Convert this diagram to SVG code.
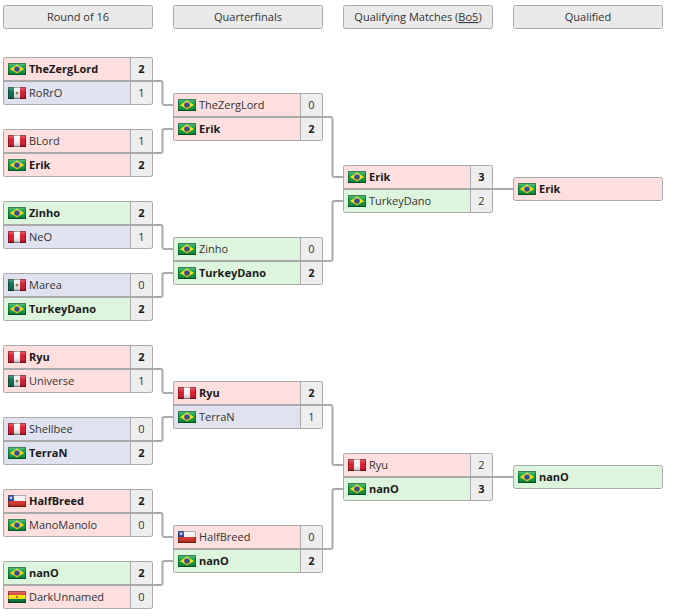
<svg xmlns="http://www.w3.org/2000/svg" xmlns:xlink="http://www.w3.org/1999/xlink" width="674" height="616" viewBox="0 0 674 616">
<style>
text{font-family:"Open Sans","Noto Sans","DejaVu Sans",sans-serif;font-size:11px;fill:#333}
.b{font-weight:700;fill:#1a1a1a}
.s{text-anchor:middle}
.h{text-anchor:middle;fill:#333}
.hd{fill:#eaeaea;stroke:#aaa;stroke-width:1}
.r{fill:#fddfdf}.u{fill:#e0e3ef}.g{fill:#ddf4dd}.c{fill:#eee}
.bd{fill:none;stroke:#aaa;stroke-width:1}
.dv{stroke:#aaa;stroke-width:2;fill:none}
.sp{stroke:#aaa;stroke-width:1}
.cn{fill:none;stroke:#aaa;stroke-width:2;stroke-linejoin:round}
.fo{fill:none;stroke:#000;stroke-opacity:.3;stroke-width:1}
.abbr{text-decoration:underline dotted}
</style>
<defs>
<linearGradient id="gl" x1="0" y1="0" x2="0" y2="1"><stop offset="0" stop-color="#fff" stop-opacity=".35"/><stop offset=".45" stop-color="#fff" stop-opacity=".05"/><stop offset="1" stop-color="#000" stop-opacity=".3"/></linearGradient>
<symbol id="br" width="18" height="12" viewBox="0 0 18 12"><rect width="18" height="12" fill="#009b3a"/><path d="M9 1.5 16 6 9 10.500 2 6z" fill="#fedf00"/><circle cx="9" cy="6" r="2.800" fill="#2a3f8f"/><rect width="18" height="12" fill="url(#gl)"/><rect class="fo" x=".5" y=".5" width="17" height="11"/></symbol>
<symbol id="mx" width="18" height="12" viewBox="0 0 18 12"><rect width="6" height="12" fill="#006847"/><rect x="6" width="6" height="12" fill="#f2f2f2"/><rect x="12" width="6" height="12" fill="#ce1126"/><circle cx="9" cy="6" r="1.500" fill="#8a6d4b"/><rect width="18" height="12" fill="url(#gl)"/><rect class="fo" x=".5" y=".5" width="17" height="11"/></symbol>
<symbol id="pe" width="18" height="12" viewBox="0 0 18 12"><rect width="6" height="12" fill="#d91023"/><rect x="6" width="6" height="12" fill="#f5f5f5"/><rect x="12" width="6" height="12" fill="#d91023"/><rect width="18" height="12" fill="url(#gl)"/><rect class="fo" x=".5" y=".5" width="17" height="11"/></symbol>
<symbol id="cl" width="18" height="12" viewBox="0 0 18 12"><rect width="18" height="6" fill="#f2f2f2"/><rect y="6" width="18" height="6" fill="#d52b1e"/><rect width="6" height="6" fill="#1a3f9c"/><circle cx="3" cy="3" r="1" fill="#fff"/><rect width="18" height="12" fill="url(#gl)"/><rect class="fo" x=".5" y=".5" width="17" height="11"/></symbol>
<symbol id="bo" width="18" height="12" viewBox="0 0 18 12"><rect width="18" height="4" fill="#d52b1e"/><rect y="4" width="18" height="4" fill="#f9e300"/><rect y="8" width="18" height="4" fill="#007934"/><circle cx="9" cy="6" r="1.200" fill="#8a6d4b"/><rect width="18" height="12" fill="url(#gl)"/><rect class="fo" x=".5" y=".5" width="17" height="11"/></symbol>
</defs>
<rect width="674" height="616" fill="#fff"/>

<g id="headers">
<g id="header-r16"><rect class="hd" x="3.500" y="5.500" width="149" height="23" rx="2"/><text class="h" x="78" y="21">Round of 16</text></g>
<g id="header-qf"><rect class="hd" x="173.500" y="5.500" width="149" height="23" rx="2"/><text class="h" x="248" y="21">Quarterfinals</text></g>
<g id="header-sf"><rect class="hd" x="343.500" y="5.500" width="149" height="23" rx="2"/><text class="h" x="418" y="21">Qualifying Matches (<tspan class="abbr">Bo5</tspan>)</text></g>
<g id="header-q"><rect class="hd" x="513.500" y="5.500" width="149" height="23" rx="2"/><text class="h" x="588" y="21">Qualified</text></g>
</g>

<g id="r16-1"><rect class="r" x="3" y="57" width="127" height="24"/><rect class="u" x="3" y="81" width="127" height="24"/><rect class="c" x="130" y="57" width="23" height="48"/><path class="dv" d="M3 81H153"/><path class="sp" d="M130.500 57V105"/><rect class="bd" x="3.500" y="57.500" width="149" height="47" rx="2"/><use href="#br" x="8" y="63"/><text class="b" x="29" y="73">TheZergLord</text><text class="b s" x="141.500" y="73">2</text><use href="#mx" x="8" y="87"/><text x="29" y="97">RoRrO</text><text class="s" x="141.500" y="97">1</text></g>
<g id="r16-2"><rect class="r" x="3" y="129" width="127" height="24"/><rect class="r" x="3" y="153" width="127" height="24"/><rect class="c" x="130" y="129" width="23" height="48"/><path class="dv" d="M3 153H153"/><path class="sp" d="M130.500 129V177"/><rect class="bd" x="3.500" y="129.500" width="149" height="47" rx="2"/><use href="#pe" x="8" y="135"/><text x="29" y="145">BLord</text><text class="s" x="141.500" y="145">1</text><use href="#br" x="8" y="159"/><text class="b" x="29" y="169">Erik</text><text class="b s" x="141.500" y="169">2</text></g>
<g id="r16-3"><rect class="g" x="3" y="201" width="127" height="24"/><rect class="u" x="3" y="225" width="127" height="24"/><rect class="c" x="130" y="201" width="23" height="48"/><path class="dv" d="M3 225H153"/><path class="sp" d="M130.500 201V249"/><rect class="bd" x="3.500" y="201.500" width="149" height="47" rx="2"/><use href="#br" x="8" y="207"/><text class="b" x="29" y="217">Zinho</text><text class="b s" x="141.500" y="217">2</text><use href="#pe" x="8" y="231"/><text x="29" y="241">NeO</text><text class="s" x="141.500" y="241">1</text></g>
<g id="r16-4"><rect class="u" x="3" y="273" width="127" height="24"/><rect class="g" x="3" y="297" width="127" height="24"/><rect class="c" x="130" y="273" width="23" height="48"/><path class="dv" d="M3 297H153"/><path class="sp" d="M130.500 273V321"/><rect class="bd" x="3.500" y="273.500" width="149" height="47" rx="2"/><use href="#mx" x="8" y="279"/><text x="29" y="289">Marea</text><text class="s" x="141.500" y="289">0</text><use href="#br" x="8" y="303"/><text class="b" x="29" y="313">TurkeyDano</text><text class="b s" x="141.500" y="313">2</text></g>
<g id="r16-5"><rect class="r" x="3" y="345" width="127" height="24"/><rect class="r" x="3" y="369" width="127" height="24"/><rect class="c" x="130" y="345" width="23" height="48"/><path class="dv" d="M3 369H153"/><path class="sp" d="M130.500 345V393"/><rect class="bd" x="3.500" y="345.500" width="149" height="47" rx="2"/><use href="#pe" x="8" y="351"/><text class="b" x="29" y="361">Ryu</text><text class="b s" x="141.500" y="361">2</text><use href="#mx" x="8" y="375"/><text x="29" y="385">Universe</text><text class="s" x="141.500" y="385">1</text></g>
<g id="r16-6"><rect class="u" x="3" y="417" width="127" height="24"/><rect class="u" x="3" y="441" width="127" height="24"/><rect class="c" x="130" y="417" width="23" height="48"/><path class="dv" d="M3 441H153"/><path class="sp" d="M130.500 417V465"/><rect class="bd" x="3.500" y="417.500" width="149" height="47" rx="2"/><use href="#pe" x="8" y="423"/><text x="29" y="433">Shellbee</text><text class="s" x="141.500" y="433">0</text><use href="#br" x="8" y="447"/><text class="b" x="29" y="457">TerraN</text><text class="b s" x="141.500" y="457">2</text></g>
<g id="r16-7"><rect class="r" x="3" y="489" width="127" height="24"/><rect class="r" x="3" y="513" width="127" height="24"/><rect class="c" x="130" y="489" width="23" height="48"/><path class="dv" d="M3 513H153"/><path class="sp" d="M130.500 489V537"/><rect class="bd" x="3.500" y="489.500" width="149" height="47" rx="2"/><use href="#cl" x="8" y="495"/><text class="b" x="29" y="505">HalfBreed</text><text class="b s" x="141.500" y="505">2</text><use href="#br" x="8" y="519"/><text x="29" y="529">ManoManolo</text><text class="s" x="141.500" y="529">0</text></g>
<g id="r16-8"><rect class="g" x="3" y="561" width="127" height="24"/><rect class="r" x="3" y="585" width="127" height="24"/><rect class="c" x="130" y="561" width="23" height="48"/><path class="dv" d="M3 585H153"/><path class="sp" d="M130.500 561V609"/><rect class="bd" x="3.500" y="561.500" width="149" height="47" rx="2"/><use href="#br" x="8" y="567"/><text class="b" x="29" y="577">nanO</text><text class="b s" x="141.500" y="577">2</text><use href="#bo" x="8" y="591"/><text x="29" y="601">DarkUnnamed</text><text class="s" x="141.500" y="601">0</text></g>

<g id="qf-1"><rect class="r" x="173" y="93" width="127" height="24"/><rect class="r" x="173" y="117" width="127" height="24"/><rect class="c" x="300" y="93" width="23" height="48"/><path class="dv" d="M173 117H323"/><path class="sp" d="M300.500 93V141"/><rect class="bd" x="173.500" y="93.500" width="149" height="47" rx="2"/><use href="#br" x="178" y="99"/><text x="199" y="109">TheZergLord</text><text class="s" x="311.500" y="109">0</text><use href="#br" x="178" y="123"/><text class="b" x="199" y="133">Erik</text><text class="b s" x="311.500" y="133">2</text></g>
<g id="qf-2"><rect class="g" x="173" y="237" width="127" height="24"/><rect class="g" x="173" y="261" width="127" height="24"/><rect class="c" x="300" y="237" width="23" height="48"/><path class="dv" d="M173 261H323"/><path class="sp" d="M300.500 237V285"/><rect class="bd" x="173.500" y="237.500" width="149" height="47" rx="2"/><use href="#br" x="178" y="243"/><text x="199" y="253">Zinho</text><text class="s" x="311.500" y="253">0</text><use href="#br" x="178" y="267"/><text class="b" x="199" y="277">TurkeyDano</text><text class="b s" x="311.500" y="277">2</text></g>
<g id="qf-3"><rect class="r" x="173" y="381" width="127" height="24"/><rect class="u" x="173" y="405" width="127" height="24"/><rect class="c" x="300" y="381" width="23" height="48"/><path class="dv" d="M173 405H323"/><path class="sp" d="M300.500 381V429"/><rect class="bd" x="173.500" y="381.500" width="149" height="47" rx="2"/><use href="#pe" x="178" y="387"/><text class="b" x="199" y="397">Ryu</text><text class="b s" x="311.500" y="397">2</text><use href="#br" x="178" y="411"/><text x="199" y="421">TerraN</text><text class="s" x="311.500" y="421">1</text></g>
<g id="qf-4"><rect class="r" x="173" y="525" width="127" height="24"/><rect class="g" x="173" y="549" width="127" height="24"/><rect class="c" x="300" y="525" width="23" height="48"/><path class="dv" d="M173 549H323"/><path class="sp" d="M300.500 525V573"/><rect class="bd" x="173.500" y="525.500" width="149" height="47" rx="2"/><use href="#cl" x="178" y="531"/><text x="199" y="541">HalfBreed</text><text class="s" x="311.500" y="541">0</text><use href="#br" x="178" y="555"/><text class="b" x="199" y="565">nanO</text><text class="b s" x="311.500" y="565">2</text></g>

<g id="sf-1"><rect class="r" x="343" y="165" width="127" height="24"/><rect class="g" x="343" y="189" width="127" height="24"/><rect class="c" x="470" y="165" width="23" height="48"/><path class="dv" d="M343 189H493"/><path class="sp" d="M470.500 165V213"/><rect class="bd" x="343.500" y="165.500" width="149" height="47" rx="2"/><use href="#br" x="348" y="171"/><text class="b" x="369" y="181">Erik</text><text class="b s" x="481.500" y="181">3</text><use href="#br" x="348" y="195"/><text x="369" y="205">TurkeyDano</text><text class="s" x="481.500" y="205">2</text></g>
<g id="sf-2"><rect class="r" x="343" y="453" width="127" height="24"/><rect class="g" x="343" y="477" width="127" height="24"/><rect class="c" x="470" y="453" width="23" height="48"/><path class="dv" d="M343 477H493"/><path class="sp" d="M470.500 453V501"/><rect class="bd" x="343.500" y="453.500" width="149" height="47" rx="2"/><use href="#pe" x="348" y="459"/><text x="369" y="469">Ryu</text><text class="s" x="481.500" y="469">2</text><use href="#br" x="348" y="483"/><text class="b" x="369" y="493">nanO</text><text class="b s" x="481.500" y="493">3</text></g>

<g id="final-1"><rect class="r" x="513.500" y="177.500" width="149" height="23" rx="2" style="stroke:#aaa"/><use href="#br" x="518" y="183"/><text class="b" x="539" y="193">Erik</text></g>
<g id="final-2"><rect class="g" x="513.500" y="465.500" width="149" height="23" rx="2" style="stroke:#aaa"/><use href="#br" x="518" y="471"/><text class="b" x="539" y="481">nanO</text></g>

<g id="connectors">
<path class="cn" d="M153 81H160.500Q162.500 81 162.500 83V103Q162.500 105 164.500 105H173"/>
<path class="cn" d="M153 153H160.500Q162.500 153 162.500 151V131Q162.500 129 164.500 129H173"/>
<path class="cn" d="M153 225H160.500Q162.500 225 162.500 227V247Q162.500 249 164.500 249H173"/>
<path class="cn" d="M153 297H160.500Q162.500 297 162.500 295V275Q162.500 273 164.500 273H173"/>
<path class="cn" d="M153 369H160.500Q162.500 369 162.500 371V391Q162.500 393 164.500 393H173"/>
<path class="cn" d="M153 441H160.500Q162.500 441 162.500 439V419Q162.500 417 164.500 417H173"/>
<path class="cn" d="M153 513H160.500Q162.500 513 162.500 515V535Q162.500 537 164.500 537H173"/>
<path class="cn" d="M153 585H160.500Q162.500 585 162.500 583V563Q162.500 561 164.500 561H173"/>
<path class="cn" d="M323 117H330.500Q332.500 117 332.500 119V175Q332.500 177 334.500 177H343"/>
<path class="cn" d="M323 261H330.500Q332.500 261 332.500 259V203Q332.500 201 334.500 201H343"/>
<path class="cn" d="M323 405H330.500Q332.500 405 332.500 407V463Q332.500 465 334.500 465H343"/>
<path class="cn" d="M323 549H330.500Q332.500 549 332.500 547V491Q332.500 489 334.500 489H343"/>
<path class="cn" d="M493 189H513"/>
<path class="cn" d="M493 477H513"/>
</g>
</svg>
